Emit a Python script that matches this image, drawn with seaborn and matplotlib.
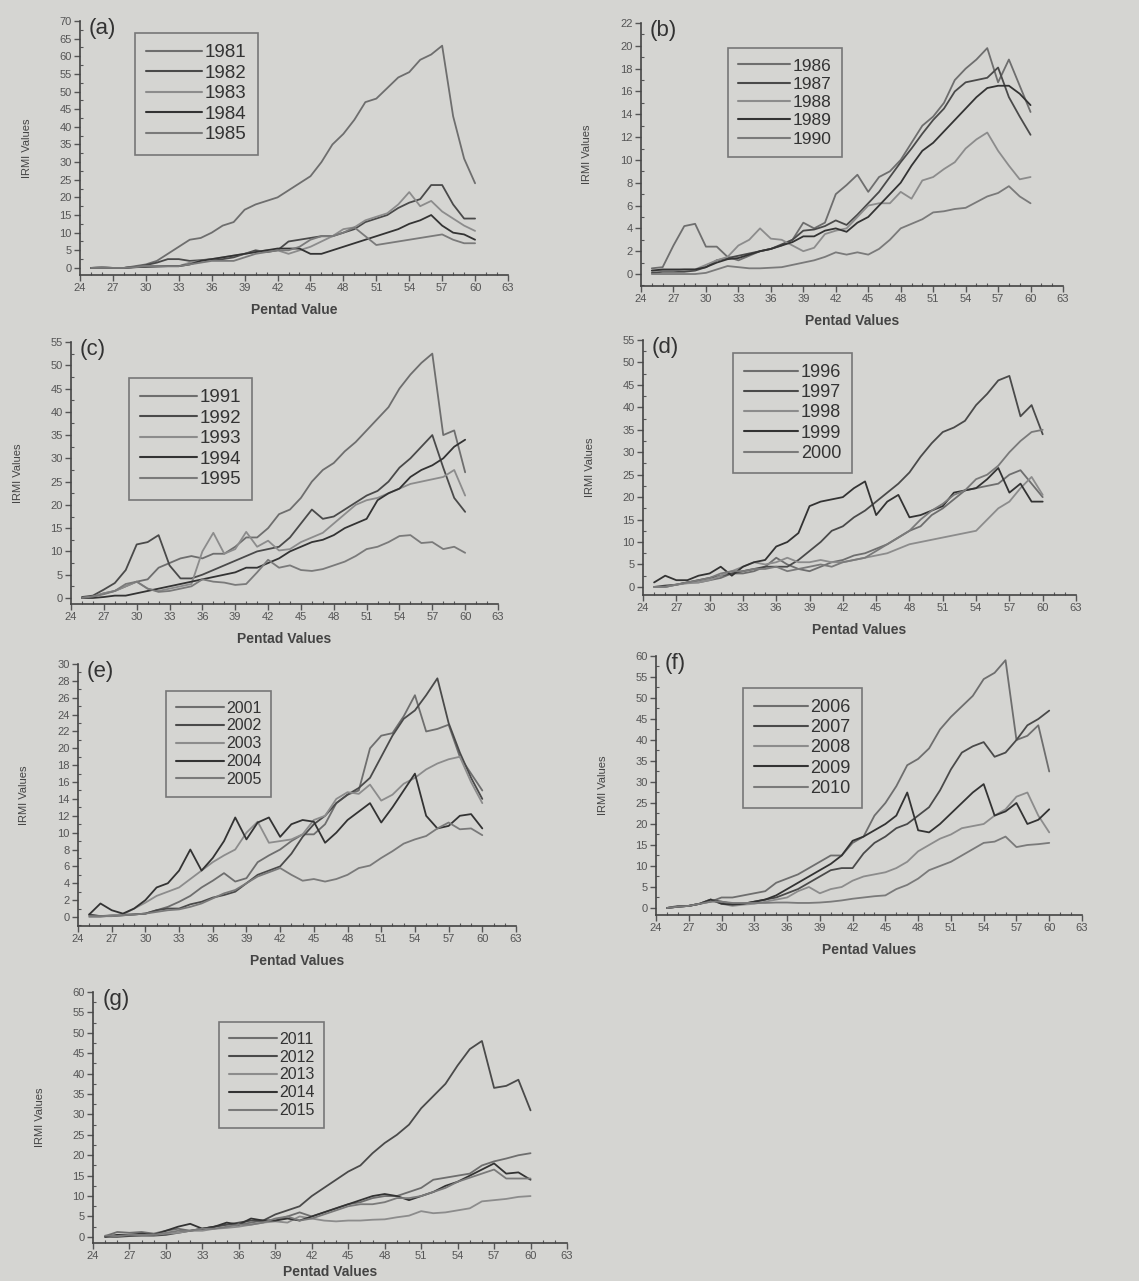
import numpy as np
import pandas as pd
import matplotlib
matplotlib.use("Agg")
import matplotlib.pyplot as plt
import seaborn as sns
from matplotlib.ticker import MultipleLocator

pentads = list(range(25, 61))

# ---------------- panel (a) ----------------
years_a = ["1981", "1982", "1983", "1984", "1985"]
a_1981 = [0, 0.3, 0, 0, 0.5, 1, 2, 4, 6, 8, 8.5, 10, 12, 13, 16.5, 18, 19, 20, 22, 24, 26, 30, 35, 38, 42, 47, 48, 51, 54, 55.5, 59, 60.5, 63, 43, 31, 24]
a_1982 = [0, 0, 0, 0, 0.3, 0.8, 1.5, 2.5, 2.5, 2, 2.2, 2.5, 2.5, 3, 4, 5, 4.5, 5, 7.5, 8, 8.5, 9, 9, 10, 11, 13, 14, 15, 17, 18.5, 19.5, 23.5, 23.5, 18, 14, 14]
a_1983 = [0, 0.2, 0, 0, 0.3, 0.5, 0.5, 0.5, 0.5, 1.5, 2, 2.5, 3, 3.5, 4, 4.5, 5, 5, 4, 5, 6, 7.5, 9, 11, 11.5, 13.5, 14.5, 15.5, 18, 21.5, 17.5, 19, 16, 14, 12, 10.5]
a_1984 = [0, 0, 0, 0, 0.2, 0.3, 0.4, 0.5, 0.5, 1, 2, 2.5, 3, 3.5, 4, 4.5, 5, 5.5, 5.5, 5.5, 4, 4, 5, 6, 7, 8, 9, 10, 11, 12.5, 13.5, 15, 12, 10, 9.5, 8]
a_1985 = [0, 0, 0, 0, 0.2, 0.5, 0.5, 0.5, 0.5, 1, 1.5, 2, 2, 2, 3, 4, 4.5, 5, 5, 6, 8, 9, 9, 10, 11.5, 9, 6.5, 7, 7.5, 8, 8.5, 9, 9.5, 8, 7, 7]

# ---------------- panel (b) ----------------
years_b = ["1986", "1987", "1988", "1989", "1990"]
b_1986 = [0.5, 0.6, 2.5, 4.2, 4.4, 2.4, 2.4, 1.5, 1.2, 1.6, 2, 2.2, 2.5, 3, 4.5, 4, 4.5, 7, 7.8, 8.7, 7.2, 8.5, 9, 10, 11.5, 13, 13.8, 15, 17, 18, 18.8, 19.8, 16.8, 18.8, 16.5, 14.2]
b_1987 = [0.1, 0.2, 0.2, 0.2, 0.3, 0.6, 1.2, 1.4, 1.6, 1.8, 2, 2.2, 2.6, 3, 3.8, 3.9, 4.2, 4.7, 4.3, 5.2, 6.2, 7.2, 8.5, 9.8, 11, 12.3, 13.5, 14.5, 16, 16.8, 17, 17.2, 18.1, 15.5, 13.8, 12.2]
b_1988 = [0.3, 0.3, 0.3, 0.4, 0.4, 0.8, 1.2, 1.5, 2.5, 3, 4, 3.1, 3, 2.5, 2, 2.3, 3.5, 3.8, 4, 5, 6, 6.2, 6.2, 7.2, 6.6, 8.2, 8.5, 9.2, 9.8, 11, 11.8, 12.4, 10.8, 9.5, 8.3, 8.5]
b_1989 = [0.3, 0.4, 0.4, 0.4, 0.4, 0.6, 1, 1.3, 1.4, 1.7, 2, 2.2, 2.5, 2.8, 3.3, 3.3, 3.8, 4, 3.7, 4.5, 5, 6, 7, 8, 9.5, 10.8, 11.5, 12.5, 13.5, 14.5, 15.5, 16.3, 16.5, 16.5, 15.8, 14.8]
b_1990 = [0, 0, 0, 0, 0, 0.1, 0.4, 0.7, 0.6, 0.5, 0.5, 0.55, 0.6, 0.8, 1, 1.2, 1.5, 1.9, 1.7, 1.9, 1.7, 2.2, 3, 4, 4.4, 4.8, 5.4, 5.5, 5.7, 5.8, 6.3, 6.8, 7.1, 7.7, 6.8, 6.2]

# ---------------- panel (c) ----------------
years_c = ["1991", "1992", "1993", "1994", "1995"]
c_1991 = [0, 0.3, 1, 1.5, 2.5, 3.5, 4, 6.5, 7.5, 8.5, 9, 8.5, 9.5, 9.5, 11, 13, 13, 15, 18, 19, 21.5, 25, 27.5, 29, 31.5, 33.5, 36, 38.5, 41, 45, 48, 50.5, 52.5, 35, 36, 27]
c_1992 = [0.2, 0.5, 1.8, 3.2, 6, 11.5, 12, 13.5, 7, 4.2, 4.2, 5, 6, 7, 8, 9, 10, 10.5, 11, 13, 16, 19, 17, 17.5, 19, 20.5, 22, 23, 25, 28, 30, 32.5, 35, 28, 21.5, 18.5]
c_1993 = [0, 0.3, 1, 1.5, 2.5, 3.5, 2, 1.5, 2, 2.5, 3, 10, 14, 9.5, 10.5, 14.2, 11, 12.3, 10.2, 10.5, 12, 13, 14, 16, 18, 20, 21, 21.5, 22.5, 23.5, 24.5, 25, 25.5, 26, 27.5, 22]
c_1994 = [0, 0, 0.2, 0.5, 0.5, 1, 1.5, 2, 2.5, 3, 3.5, 4, 4.5, 5, 5.5, 6.5, 6.5, 7.5, 8.5, 10, 11, 12, 12.5, 13.5, 15, 16, 17, 21, 22.5, 23.5, 26, 27.5, 28.5, 30, 32.5, 34]
c_1995 = [0, 0.3, 0.8, 1.5, 3, 3.5, 2, 1.3, 1.5, 2, 2.5, 4, 3.5, 3.3, 2.8, 3, 5.5, 8.2, 6.5, 7, 6, 5.8, 6.2, 7, 7.8, 9, 10.5, 11, 12, 13.3, 13.5, 11.8, 12, 10.5, 11, 9.7]

# ---------------- panel (d) ----------------
years_d = ["1996", "1997", "1998", "1999", "2000"]
d_1996 = [0, 0, 0.5, 1, 1, 1.5, 2, 3, 3, 3.5, 4.5, 6.5, 5, 4, 3.5, 4.5, 5.5, 6, 7, 7.5, 8.5, 9.5, 11, 12.5, 13.5, 16, 17.5, 19.5, 21.5, 22, 22.5, 23, 25, 26, 23, 20]
d_1997 = [0, 0.3, 0.5, 1, 1.5, 2, 2.5, 3, 3.5, 4, 4.5, 4.5, 4.5, 6, 8, 10, 12.5, 13.5, 15.5, 17, 19, 21, 23, 25.5, 29, 32, 34.5, 35.5, 37, 40.5, 43, 46, 47, 38, 40.5, 34]
d_1998 = [0, 0, 0.5, 0.8, 1, 1.5, 2.5, 3.5, 4.5, 5.5, 5, 5.5, 6.5, 5.5, 5.5, 6, 5.5, 5.5, 6, 6.5, 7, 7.5, 8.5, 9.5, 10, 10.5, 11, 11.5, 12, 12.5, 15, 17.5, 19, 22, 24.5, 20.5]
d_1999 = [1, 2.5, 1.5, 1.5, 2.5, 3, 4.5, 2.5, 4.5, 5.5, 6, 9, 10, 12, 18, 19, 19.5, 20, 22, 23.5, 16, 19, 20.5, 15.5, 16, 17, 18, 21, 21.5, 22, 24, 26.5, 21, 23, 19, 19]
d_2000 = [0, 0, 0.5, 1, 1.5, 2, 3, 3.5, 3.5, 4, 4, 4.5, 3.5, 4, 4.5, 5, 4.5, 5.5, 6, 6.5, 8, 9.5, 11, 12.5, 15, 17, 18.5, 20.5, 21.5, 24, 25, 27, 30, 32.5, 34.5, 35]

# ---------------- panel (e) ----------------
years_e = ["2001", "2002", "2003", "2004", "2005"]
e_2001 = [0.2, 0.1, 0.2, 0.3, 0.3, 0.4, 0.8, 1.2, 1.8, 2.5, 3.5, 4.3, 5.2, 4.2, 4.6, 6.5, 7.3, 8, 9, 9.8, 9.8, 11, 13.5, 14.5, 15, 20, 21.5, 21.8, 23.8, 26.3, 22, 22.3, 22.8, 19, 17, 15]
e_2002 = [0.3, 0.1, 0.1, 0.2, 0.3, 0.4, 0.8, 1, 1, 1.5, 1.8, 2.3, 2.6, 3, 4, 5, 5.5, 6, 7.5, 9.5, 11, 12, 13.5, 14.5, 15.3, 16.5, 19, 21.5, 23.5, 24.5, 26.3, 28.3, 23, 19.5, 16.5, 14]
e_2003 = [0, 0, 0.2, 0.3, 1, 1.7, 2.5, 3, 3.5, 4.5, 5.5, 6.5, 7.3, 8, 10, 11.3, 8.8, 9, 9.2, 9.8, 11.5, 12, 14, 14.8, 14.6, 15.7, 13.8, 14.5, 15.8, 16.5, 17.5, 18.2, 18.7, 19, 16, 13.5]
e_2004 = [0.3, 1.6, 0.8, 0.4, 1, 2, 3.5, 4, 5.5, 8, 5.5, 7, 9, 11.8, 9.2, 11.2, 11.8, 9.5, 11, 11.5, 11.3, 8.8, 10, 11.5, 12.5, 13.5, 11.2, 13, 15, 17, 12, 10.5, 10.8, 12, 12.2, 10.5]
e_2005 = [0.1, 0.1, 0.1, 0.2, 0.3, 0.4, 0.6, 0.8, 0.9, 1.2, 1.6, 2.2, 2.8, 3.2, 4, 4.8, 5.3, 5.8, 5, 4.3, 4.5, 4.2, 4.5, 5, 5.8, 6.1, 7, 7.8, 8.7, 9.2, 9.6, 10.5, 11.2, 10.4, 10.5, 9.7]

# ---------------- panel (f) ----------------
years_f = ["2006", "2007", "2008", "2009", "2010"]
f_2006 = [0, 0.5, 0.5, 1, 1.5, 2.5, 2.5, 3, 3.5, 4, 6, 7, 8, 9.5, 11, 12.5, 12.5, 15.5, 17, 22, 25, 29, 34, 35.5, 38, 42.5, 45.5, 48, 50.5, 54.5, 56, 59, 40, 41, 43.5, 32.5]
f_2007 = [0, 0.3, 0.5, 1, 2, 1.5, 1, 1, 1.5, 2, 2.5, 3.5, 4.5, 6, 7.5, 9, 9.5, 9.5, 13, 15.5, 17, 19, 20, 22, 24, 28, 33, 37, 38.5, 39.5, 36, 37, 40, 43.5, 45, 47]
f_2008 = [0, 0.3, 0.5, 1, 2, 1, 0.5, 0.8, 1, 1.5, 2, 2.5, 4, 5, 3.5, 4.5, 5, 6.5, 7.5, 8, 8.5, 9.5, 11, 13.5, 15, 16.5, 17.5, 19, 19.5, 20, 22, 23.5, 26.5, 27.5, 22, 18]
f_2009 = [0, 0.3, 0.5, 1, 2, 1, 0.8, 1, 1.5, 2, 3, 4.5, 6, 7.5, 9, 10.5, 12.5, 16, 17, 18.5, 20, 22, 27.5, 18.5, 18, 20, 22.5, 25, 27.5, 29.5, 22, 23, 25, 20, 21, 23.5]
f_2010 = [0, 0.3, 0.5, 1, 1.5, 1.5, 1.2, 1.2, 1.2, 1.2, 1.3, 1.3, 1.2, 1.2, 1.3, 1.5, 1.8, 2.2, 2.5, 2.8, 3, 4.5, 5.5, 7, 9, 10, 11, 12.5, 14, 15.5, 15.8, 17, 14.5, 15, 15.2, 15.5]

# ---------------- panel (g) ----------------
years_g = ["2011", "2012", "2013", "2014", "2015"]
g_2011 = [0.2, 1.2, 1, 1.2, 0.8, 1.5, 2, 1.5, 2, 2.5, 3, 3, 3.5, 4, 4, 5, 6, 5, 6, 7, 8, 8.5, 9.5, 10, 10, 11, 12, 14, 14.5, 15, 15.5, 17.5, 18.5, 19.2, 20, 20.5]
g_2012 = [0, 0, 0.2, 0.3, 0.3, 0.5, 1, 1.5, 2, 2.5, 3, 3.5, 4, 4, 5.5, 6.5, 7.5, 10, 12, 14, 16, 17.5, 20.5, 23, 25, 27.5, 31.5, 34.5, 37.5, 42, 46, 48, 36.5, 37, 38.5, 31]
g_2013 = [0, 0.3, 0.5, 0.5, 0.5, 0.8, 1, 1.5, 1.5, 2, 2.2, 2.5, 3, 3.5, 3.8, 3.5, 5, 4.5, 4, 3.8, 4, 4, 4.2, 4.3, 4.8, 5.2, 6.3, 5.8, 6, 6.5, 7, 8.7, 9, 9.3, 9.8, 10]
g_2014 = [0, 0.5, 0.5, 0.8, 0.5, 1.5, 2.5, 3.2, 2, 2.5, 3.5, 3, 4.5, 4, 4, 4.5, 4, 5, 6, 7, 8, 9, 10, 10.5, 10, 9, 10, 11, 12.5, 13.5, 15, 16.5, 18, 15.5, 15.8, 14]
g_2015 = [0.3, 0.2, 0.5, 0.5, 0.5, 1, 1.5, 1.5, 2, 2, 2.5, 3, 3, 3.5, 4.5, 5, 4, 4.5, 5.5, 6.5, 7.5, 8, 8, 8.5, 9.5, 9.5, 10, 11, 12, 13.5, 14.5, 15.5, 16.5, 14.3, 14.3, 14.3]

BG = "#d5d5d2"
sns.set_theme(style="ticks", rc={"figure.facecolor": BG, "axes.facecolor": BG,
                                 "savefig.facecolor": BG})
plt.rcParams["font.family"] = ["Liberation Sans", "DejaVu Sans"]

fig = plt.figure(figsize=(11.39, 12.81), dpi=100)
W, H = 1139, 1281

grays = ["#6e6e6e", "#4a4a4a", "#8c8c8c", "#333333", "#7a7a7a"]

panels = [
    ("(a)", years_a, [a_1981, a_1982, a_1983, a_1984, a_1985], (80, 508, 21, 275), (-2, 70), 5, (0.128, 0.953), "Pentad Value", 13.5, 7),
    ("(b)", years_b, [b_1986, b_1987, b_1988, b_1989, b_1990], (641, 1063, 23, 286), (-1.05, 22), 2, (0.206, 0.905), "Pentad Values", 12.5, 7),
    ("(c)", years_c, [c_1991, c_1992, c_1993, c_1994, c_1995], (71, 498, 342, 604), (-1.3, 55), 5, (0.136, 0.863), "Pentad Values", 13.5, 7),
    ("(d)", years_d, [d_1996, d_1997, d_1998, d_1999, d_2000], (643, 1076, 340, 595), (-1.8, 55), 5, (0.208, 0.949), "Pentad Values", 13, 7),
    ("(e)", years_e, [e_2001, e_2002, e_2003, e_2004, e_2005], (78, 516, 664, 926), (-1.07, 30), 2, (0.201, 0.897), "Pentad Values", 11.5, 7),
    ("(f)", years_f, [f_2006, f_2007, f_2008, f_2009, f_2010], (656, 1082, 656, 915), (-1.67, 60), 5, (0.204, 0.876), "Pentad Values", 13, 7),
    ("(g)", years_g, [g_2011, g_2012, g_2013, g_2014, g_2015], (93, 567, 992, 1243), (-1.5, 60), 5, (0.266, 0.88), "Pentad Values", 11.5, 3),
]

for lab, years, series, (l, r, t, b), ylim, ystep, lanchor, xlab, lfs, xlpad in panels:
    ax = fig.add_axes([l / W, 1 - b / H, (r - l) / W, (b - t) / H])
    ax.set_facecolor(BG)
    rows = []
    for y, vals in zip(years, series):
        for p, v in zip(pentads, vals):
            rows.append({"Pentad": p, "IRMI": v, "Year": y})
    df = pd.DataFrame(rows)
    sns.lineplot(data=df, x="Pentad", y="IRMI", hue="Year", hue_order=years,
                 palette=dict(zip(years, grays)), linewidth=1.3, ax=ax, legend=True)
    ax.set_xlim(24, 63)
    ax.set_ylim(*ylim)
    ax.xaxis.set_major_locator(MultipleLocator(3))
    ax.xaxis.set_minor_locator(MultipleLocator(1))
    ax.yaxis.set_minor_locator(MultipleLocator(ystep / 2))
    ax.set_yticks([v for v in np.arange(0, ylim[1] + 0.01, ystep)])
    ax.tick_params(axis="both", which="major", direction="out", length=4, width=1,
                   color="#555555", labelsize=8, labelcolor="#555555", pad=2)
    ax.tick_params(axis="both", which="minor", direction="in", length=2.5, width=0.8,
                   color="#555555")
    for s in ("top", "right"):
        ax.spines[s].set_visible(False)
    for s in ("left", "bottom"):
        ax.spines[s].set_color("#444444")
        ax.spines[s].set_linewidth(1.2)
    ax.set_xlabel(xlab, fontsize=10, fontweight="bold", color="#444444", labelpad=xlpad)
    ax.set_ylabel("IRMI Values", fontsize=8, color="#444444", labelpad=20)
    ax.text(0.02, 1.01, lab, transform=ax.transAxes, fontsize=16, color="#333333",
            ha="left", va="top")
    leg = ax.legend(loc="upper left", bbox_to_anchor=lanchor, fontsize=lfs,
                    frameon=True, fancybox=False, handlelength=3.0, labelspacing=0.18,
                    handletextpad=0.15, borderpad=0.6, borderaxespad=0)
    leg.get_frame().set_facecolor(BG)
    leg.get_frame().set_edgecolor("#777777")
    leg.get_frame().set_linewidth(1.2)
    leg.get_frame().set_alpha(1)
    for line in leg.get_lines():
        line.set_linewidth(1.5)
    for txt in leg.get_texts():
        txt.set_color("#333333")

fig.savefig("out.png", dpi=100, facecolor=BG)
